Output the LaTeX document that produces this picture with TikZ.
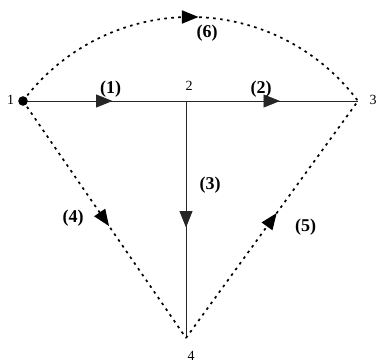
\documentclass[tikz,border=0pt]{standalone}
\usepackage{fontspec}
\setmainfont{Liberation Serif}
\usetikzlibrary{arrows.meta,decorations.markings}
\tikzset{
  x=1pt,y=1pt,
  midarrow/.style={postaction={decorate},decoration={markings,
     mark=at position 0.5 with {\arrow[xshift=8pt]{Triangle[length=16.5pt,width=13pt]}}}},
  solidline/.style={draw=black!85,line width=0.9pt,midarrow},
  dotline/.style={draw=black,line width=1.7pt,dash pattern=on 2.6pt off 4.4pt,midarrow},
  numlabel/.style={font=\fontsize{14}{15}\selectfont,inner sep=0pt},
  edgelabel/.style={font=\fontsize{18}{19}\selectfont\bfseries,inner sep=0pt},
}
\begin{document}
\begin{tikzpicture}
\useasboundingbox (0,0) rectangle (380,362);
\coordinate (n1) at (23,261);
\coordinate (n2) at (186,261);
\coordinate (n3) at (358,261);
\coordinate (n4) at (186,24);
% connectors
\draw[solidline] (n1) -- (n2);
\draw[solidline] (n2) -- (n3);
\draw[solidline] (n2) -- (n4);
\draw[dotline] (n1) -- (n4);
\draw[dotline] (n4) -- (n3);
\draw[dotline] (n1) arc[start angle=143.27,end angle=36.73,radius=209];
\fill (n1) circle (4.8);
% node labels
\node[numlabel] (l1) at (10.5,262) {1};
\node[numlabel] (l2) at (189,276) {2};
\node[numlabel] (l3) at (373,262) {3};
\node[numlabel] (l4) at (191,6.5) {4};
% edge labels
\node[edgelabel] (e1) at (110.5,273) {(1)};
\node[edgelabel] (e2) at (261,272.5) {(2)};
\node[edgelabel] (e3) at (210,176.5) {(3)};
\node[edgelabel] (e4) at (73,144) {(4)};
\node[edgelabel] (e5) at (305.5,135) {(5)};
\node[edgelabel] (e6) at (207,329) {(6)};
\end{tikzpicture}
\end{document}
